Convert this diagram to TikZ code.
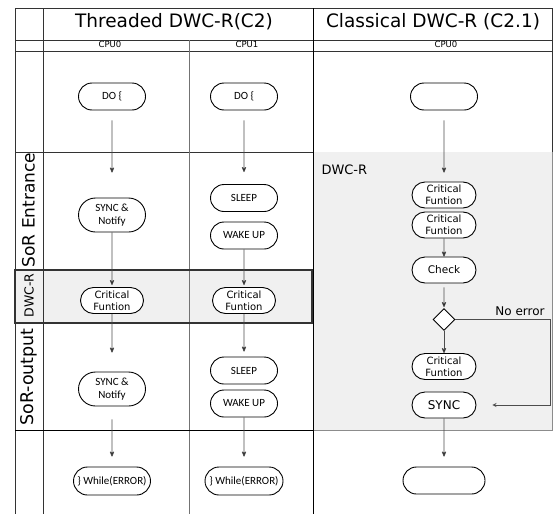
\documentclass[tikz,border=0pt]{standalone}
\usepackage{fontspec}
\setmainfont{DejaVu Sans}
\newfontfamily\stepfont{Carlito}
\usetikzlibrary{shapes,arrows}

\begin{document}
\begin{tikzpicture}[x=1pt,y=-1pt,>=stealth',auto,node distance=30pt,
                    blk/.style={rounded rectangle,draw,fill=white,line width=0.9pt,
                                minimum width=69pt,minimum height=27pt,inner sep=1pt,
                                align=center,font=\stepfont\fontsize{11}{13}\selectfont},
                    crit/.style={blk,minimum width=66pt,minimum height=26pt,
                                 font=\fontsize{10}{12}\selectfont},
                    dec/.style={diamond,draw,fill=white,line width=0.9pt,
                                minimum size=22pt,inner sep=0pt},
                    flow/.style={->,draw=black!70,line width=0.8pt},
                    grid/.style={draw=black!80,line width=0.8pt},
                    lane/.style={rotate=90,font=\fontsize{17}{18}\selectfont}]

  \useasboundingbox (0,0) rectangle (553,514);

  % shaded parts
  \fill[black!6] (15,270) rectangle (312,323);
  \fill[black!6] (313,152) rectangle (552,430);
  \draw[black!45,line width=0.8pt] (552,152) -- (552,430) -- (313,430);

  % table
  \draw[grid] (15,8) -- (552,8) -- (552,152);
  \draw[grid] (15,40) -- (552,40);
  \draw[grid] (15,51) -- (552,51);
  \draw[grid] (15,152) -- (313,152);
  \draw[grid] (15,8) -- (15,514);
  \draw[grid] (43,8) -- (43,514);
  \draw[draw=black!55,line width=0.8pt] (189,40) -- (189,514);
  \draw[black,line width=1pt] (313,8) -- (313,514);
  \draw[black,line width=1pt] (15,430) -- (313,430);
  \draw[black!80,line width=1.3pt] (15,270) rectangle (312,323);

  % headers
  \node (thr) at (174,22) {\fontsize{18.5}{20}\selectfont Threaded DWC-R(C2)};
  \node (cla) at (433,22) {\fontsize{18.5}{20}\selectfont Classical DWC-R (C2.1)};
  \node[font=\fontsize{8.5}{9}\selectfont] (cpuA) at (110,44.5) {CPU0};
  \node[font=\fontsize{8.5}{9}\selectfont] (cpuB) at (247,44.5) {CPU1};
  \node[font=\fontsize{8.5}{9}\selectfont] (cpuC) at (446,44.5) {CPU0};

  \node[lane] (ent) at (28.5,210) {SoR Entrance};
  \node[lane,font=\fontsize{12.5}{14}\selectfont] (dwc) at (29,295.5) {DWC-R};
  \node[lane,font=\fontsize{17.5}{18}\selectfont] (out) at (28.5,377) {SoR-output};
  \node[anchor=west,font=\fontsize{13}{14}\selectfont] (dwcc) at (318,170) {DWC-R};

  % CPU0 (threaded)
  \node[blk]  (do0)  at (112,96.5) {DO \{};
  \node[blk,minimum height=34pt] (sn0)  at (112,215)  {SYNC \&\\Notify};
  \node[crit,minimum width=65pt] (cf0)  at (112,300.5) {Critical\\Funtion};
  \node[blk,minimum height=34pt] (sn0b) at (112,389)  {SYNC \&\\Notify};
  \node[blk,minimum width=79pt,minimum height=28pt] (wh0) at (112,481) {\} While(ERROR)};

  % CPU1 (threaded)
  \node[blk]  (do1)  at (244,96.5) {DO \{};
  \node[blk]  (sl1)  at (244,198)  {SLEEP};
  \node[blk]  (wk1)  [below of=sl1,node distance=37.5pt] {WAKE UP};
  \node[crit,minimum width=65pt] (cf1)  at (244,300.5) {Critical\\Funtion};
  \node[blk]  (sl1b) at (244,370.5) {SLEEP};
  \node[blk]  (wk1b) [below of=sl1b,node distance=33pt] {WAKE UP};
  \node[blk,minimum width=80pt,minimum height=28pt] (wh1) at (244,481) {\} While(ERROR)};

  % CPU0 (classical)
  \node[blk]  (dc)  at (444,96.5) {};
  \node[crit] (cfa) at (444,195)  {Critical\\Funtion};
  \node[crit] (cfb) [below of=cfa] {Critical\\Funtion};
  \node[crit,font=\fontsize{10.5}{12}\selectfont] (ck) at (444,270) {Check};
  \node[dec]  (dm)  at (444,319.5) {};
  \node[crit] (cfc) at (444,366.5) {Critical\\Funtion};
  \node[crit,font=\fontsize{12}{14}\selectfont] (sy) at (444,405) {SYNC};
  \node[blk,minimum width=84pt] (de) at (444,480.5) {};
  \coordinate (turn) at (550,405);

  \path[flow] (do0)  edge[shorten <=10pt,shorten >=25pt] (sn0)
              (sn0)  edge[shorten >=2pt]                 (cf0)
              (cf0)  edge[shorten >=19pt]                (sn0b)
              (sn0b) edge[shorten <=13pt,shorten >=10pt] (wh0)
              (do1)  edge[shorten <=10pt,shorten >=12pt] (sl1)
              (wk1)  edge[shorten >=2pt]                 (cf1)
              (cf1)  edge[shorten >=5pt]                 (sl1b)
              (wk1b) edge[shorten >=10pt]                (wh1)
              (dc)   edge[shorten <=10pt,shorten >=9pt]  (cfa)
              (cfb)  edge                                (ck)
              (ck)   edge[shorten <=4pt,shorten >=1pt]   (dm)
              (dm)   edge                                (cfc)
              (sy)   edge[shorten >=10pt]                (de);

  \draw[flow,>=stealth,shorten >=16pt] (dm.east) -| (turn) -- (sy.east);
  \node[font=\fontsize{12}{14}\selectfont] (noerr) at (520,311) {No error};
\end{tikzpicture}
\end{document}
